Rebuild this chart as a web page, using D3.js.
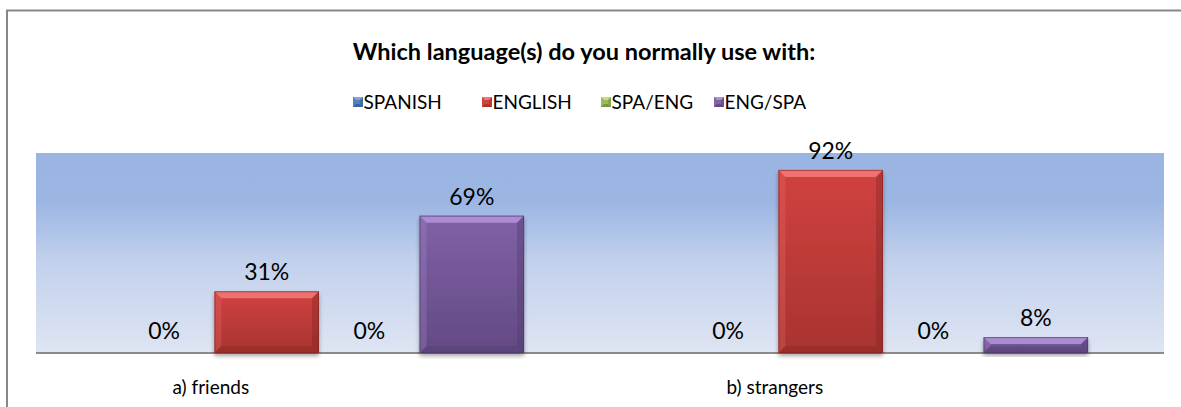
<!DOCTYPE html>
<html>
<head>
<meta charset="utf-8">
<script src="https://cdn.jsdelivr.net/npm/d3@7"></script>
<style>
  html, body { margin: 0; padding: 0; background: #fff; }
  svg { display: block; font-family: Lato, "Open Sans", sans-serif; }
</style>
</head>
<body>
<svg id="chart" width="1181" height="407"></svg>
<script>
// Survey answers: share of respondents per language choice
const categories = ["a) friends", "b) strangers"];
const seriesNames = ["SPANISH", "ENGLISH", "SPA/ENG", "ENG/SPA"];
const spanish = [0, 0];
const english = [0.31, 0.92];
const spaEng  = [0, 0];
const engSpa  = [0.69, 0.08];
const seriesValues = [spanish, english, spaEng, engSpa];
const titleText = "Which language(s) do you normally use with:";

const colors = {
  "SPANISH": { base: "#4F81BD", light: "#7FA6DA", dark: "#3A6396", edge: "#2C4D77" },
  "ENGLISH": { base: "#D0423F", light: "#F27876", dark: "#A83331", edge: "#7E2322" },
  "SPA/ENG": { base: "#9BBB59", light: "#C2DE86", dark: "#7A9744", edge: "#5C7431" },
  "ENG/SPA": { base: "#8061A6", light: "#B091D8", dark: "#634A84", edge: "#4B3766" }
};

const svg = d3.select("#chart");
const defs = svg.append("defs");

const plot = { left: 36, right: 1164, top: 153, bottom: 353 };

// plot area background
const bg = defs.append("linearGradient").attr("id", "plotBg")
  .attr("x1", 0).attr("y1", 0).attr("x2", 0).attr("y2", 1);
bg.append("stop").attr("offset", "0%").attr("stop-color", "#9AB5E2");
bg.append("stop").attr("offset", "24%").attr("stop-color", "#9BB6E3");
bg.append("stop").attr("offset", "55%").attr("stop-color", "#C3D1EC");
bg.append("stop").attr("offset", "100%").attr("stop-color", "#DEE5F3");

// vertical shading for each bar colour
seriesNames.forEach((s, i) => {
  const c = colors[s];
  const g = defs.append("linearGradient").attr("id", "barFill" + i)
    .attr("x1", 0).attr("y1", 0).attr("x2", 0).attr("y2", 1);
  g.append("stop").attr("offset", "0%").attr("stop-color", c.base);
  g.append("stop").attr("offset", "100%").attr("stop-color", c.dark);
});

const shadow = defs.append("filter").attr("id", "barShadow")
  .attr("x", "-10%").attr("y", "-10%").attr("width", "120%").attr("height", "130%");
shadow.append("feGaussianBlur").attr("in", "SourceAlpha").attr("stdDeviation", 2);
shadow.append("feOffset").attr("dx", 0).attr("dy", 3).attr("result", "off");
shadow.append("feComponentTransfer").append("feFuncA").attr("type", "linear").attr("slope", 0.35);
const merge = shadow.append("feMerge");
merge.append("feMergeNode");
merge.append("feMergeNode").attr("in", "SourceGraphic");

// outer chart frame
svg.append("rect")
  .attr("x", 7).attr("y", 10.5).attr("width", 1200).attr("height", 420)
  .attr("fill", "#fff").attr("stroke", "#878787").attr("stroke-width", 2);

svg.append("rect")
  .attr("x", plot.left).attr("y", plot.top)
  .attr("width", plot.right - plot.left).attr("height", plot.bottom - plot.top)
  .attr("fill", "url(#plotBg)");

const x0 = d3.scaleBand().domain(categories).range([plot.left, plot.right]);
const x1 = d3.scaleBand().domain(seriesNames).range([0, x0.bandwidth()])
  .paddingInner(0).paddingOuter(0.75);
const y = d3.scaleLinear().domain([0, 1]).range([plot.bottom, plot.top + 1]);

const rows = [];
categories.forEach((cat, ci) => {
  seriesNames.forEach((s, si) => {
    rows.push({ cat, s, si, v: seriesValues[si][ci] });
  });
});

// axis baseline
const axisG = svg.append("g").attr("transform", `translate(0,${plot.bottom})`);
axisG.call(d3.axisBottom(x0).tickSize(0).tickFormat(""));
axisG.select(".domain").attr("stroke", "#8A8A8A").attr("stroke-width", 2)
  .attr("d", `M${plot.left},0H${plot.right}`);

// bevelled bars
const barW = x1.bandwidth() + 2;
const bars = svg.append("g").selectAll("g.bar")
  .data(rows.filter(d => d.v > 0))
  .join("g").attr("class", "bar")
  .attr("filter", "url(#barShadow)");

bars.each(function(d) {
  const g = d3.select(this);
  const c = colors[d.s];
  const bx = x0(d.cat) + x1(d.s) - 1;
  const by = y(d.v);
  const h = y(0) - by;
  const w = barW;
  const b = Math.min(7, h / 2);
  g.append("rect").attr("x", bx).attr("y", by).attr("width", w).attr("height", h)
    .attr("fill", `url(#barFill${d.si})`);
  // top bevel highlight
  g.append("path").attr("fill", c.light).attr("opacity", 0.9)
    .attr("d", `M${bx},${by}H${bx + w}L${bx + w - b},${by + b}H${bx + b}Z`);
  // side bevels
  g.append("path").attr("fill", c.light).attr("opacity", 0.25)
    .attr("d", `M${bx},${by}L${bx + b},${by + b}V${by + h - b}L${bx},${by + h}Z`);
  g.append("path").attr("fill", c.edge).attr("opacity", 0.35)
    .attr("d", `M${bx + w},${by}L${bx + w - b},${by + b}V${by + h - b}L${bx + w},${by + h}Z`);
  // bottom bevel
  g.append("path").attr("fill", c.edge).attr("opacity", 0.3)
    .attr("d", `M${bx},${by + h}H${bx + w}L${bx + w - b},${by + h - b}H${bx + b}Z`);
  g.append("rect").attr("x", bx + 0.5).attr("y", by + 0.5).attr("width", w - 1).attr("height", h - 1)
    .attr("fill", "none").attr("stroke", c.edge).attr("stroke-opacity", 0.6);
});

// value labels
svg.append("g").selectAll("text")
  .data(rows)
  .join("text")
  .attr("x", d => x0(d.cat) + x1(d.s) + x1.bandwidth() / 2)
  .attr("y", d => y(d.v) - (d.v === 0 ? 14 : 11))
  .attr("text-anchor", "middle")
  .attr("font-size", 23)
  .attr("fill", "#000")
  .text(d => d3.format(".0%")(d.v));

// category labels
svg.append("g").selectAll("text")
  .data(categories)
  .join("text")
  .attr("x", d => x0(d) + x0.bandwidth() * 0.31)
  .attr("y", 394)
  .attr("text-anchor", "middle")
  .attr("font-size", 19)
  .attr("fill", "#000")
  .text(d => d);

// title
svg.append("text")
  .attr("x", 584).attr("y", 60)
  .attr("text-anchor", "middle")
  .attr("font-size", 23.5).attr("font-weight", "bold")
  .attr("fill", "#000")
  .text(titleText);

// legend
const legendX = [353, 482, 601, 714];
const legend = svg.append("g").selectAll("g")
  .data(seriesNames)
  .join("g")
  .attr("transform", (d, i) => `translate(${legendX[i]},97)`);
legend.each(function(s) {
  const g = d3.select(this);
  const c = colors[s];
  const k = 10, b = 3;
  g.append("rect").attr("width", k).attr("height", k).attr("fill", c.base);
  g.append("path").attr("fill", c.light).attr("d", `M0,0H${k}L${k - b},${b}H${b}Z`);
  g.append("path").attr("fill", c.dark).attr("d", `M0,${k}H${k}L${k - b},${k - b}H${b}Z`);
  g.append("path").attr("fill", c.dark).attr("opacity", 0.6).attr("d", `M${k},0V${k}L${k - b},${k - b}V${b}Z`);
  g.append("text").attr("x", 10.5).attr("y", 11.5)
    .attr("font-size", 19).attr("fill", "#000").text(s);
});
</script>
</body>
</html>
